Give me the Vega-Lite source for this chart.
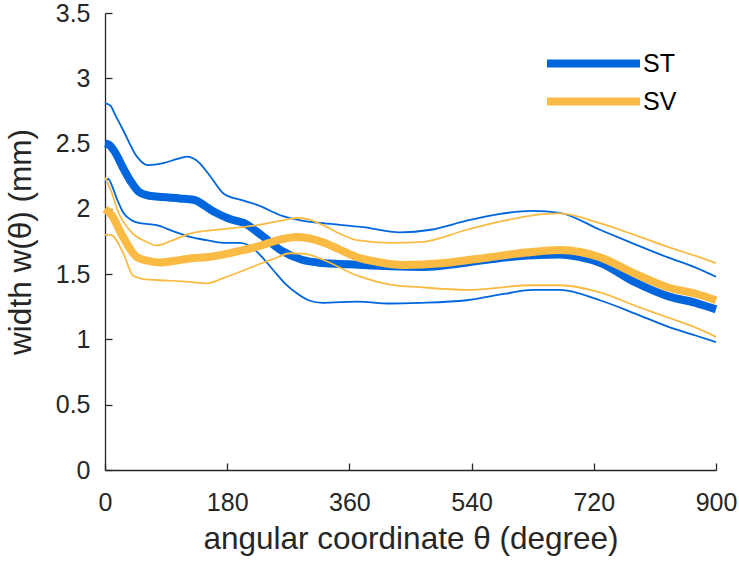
{
  "$schema": "https://vega.github.io/schema/vega-lite/v6.json",
  "width": 611,
  "height": 457,
  "autosize": {"type": "none"},
  "padding": {"left": 105, "top": 13, "right": 23, "bottom": 93},
  "background": "white",
  "config": {
    "view": {"stroke": null},
    "font": "Liberation Sans",
    "axis": {
      "domainColor": "#262626",
      "domainWidth": 1.3,
      "tickColor": "#262626",
      "tickWidth": 1.3,
      "tickSize": -7,
      "labelColor": "#262626",
      "labelFont": "Liberation Sans",
      "labelFontSize": 25,
      "titleFont": "Liberation Sans",
      "titleFontSize": 31.5,
      "titleFontWeight": "normal",
      "titleColor": "#262626",
      "grid": false,
      "labelFlush": false,
      "labelOverlap": false
    },
    "legend": {
      "labelFont": "Liberation Sans",
      "labelFontSize": 25,
      "labelColor": "#000000"
    }
  },
  "data": {
    "values": [
      {"series": "ST", "line": "mean", "theta": 0, "w": 2.50},
      {"series": "ST", "line": "mean", "theta": 6, "w": 2.49},
      {"series": "ST", "line": "mean", "theta": 14, "w": 2.44},
      {"series": "ST", "line": "mean", "theta": 25, "w": 2.33},
      {"series": "ST", "line": "mean", "theta": 38, "w": 2.21},
      {"series": "ST", "line": "mean", "theta": 50, "w": 2.13},
      {"series": "ST", "line": "mean", "theta": 65, "w": 2.10},
      {"series": "ST", "line": "mean", "theta": 85, "w": 2.09},
      {"series": "ST", "line": "mean", "theta": 110, "w": 2.08},
      {"series": "ST", "line": "mean", "theta": 130, "w": 2.07},
      {"series": "ST", "line": "mean", "theta": 160, "w": 1.98},
      {"series": "ST", "line": "mean", "theta": 185, "w": 1.92},
      {"series": "ST", "line": "mean", "theta": 205, "w": 1.89},
      {"series": "ST", "line": "mean", "theta": 230, "w": 1.80},
      {"series": "ST", "line": "mean", "theta": 260, "w": 1.68},
      {"series": "ST", "line": "mean", "theta": 290, "w": 1.61},
      {"series": "ST", "line": "mean", "theta": 320, "w": 1.585},
      {"series": "ST", "line": "mean", "theta": 360, "w": 1.575},
      {"series": "ST", "line": "mean", "theta": 420, "w": 1.56},
      {"series": "ST", "line": "mean", "theta": 470, "w": 1.555},
      {"series": "ST", "line": "mean", "theta": 520, "w": 1.58},
      {"series": "ST", "line": "mean", "theta": 570, "w": 1.615},
      {"series": "ST", "line": "mean", "theta": 630, "w": 1.645},
      {"series": "ST", "line": "mean", "theta": 670, "w": 1.65},
      {"series": "ST", "line": "mean", "theta": 700, "w": 1.63},
      {"series": "ST", "line": "mean", "theta": 730, "w": 1.585},
      {"series": "ST", "line": "mean", "theta": 780, "w": 1.44},
      {"series": "ST", "line": "mean", "theta": 830, "w": 1.33},
      {"series": "ST", "line": "mean", "theta": 870, "w": 1.28},
      {"series": "ST", "line": "mean", "theta": 900, "w": 1.23},

      {"series": "ST", "line": "upper", "theta": 0, "w": 2.81},
      {"series": "ST", "line": "upper", "theta": 8, "w": 2.79},
      {"series": "ST", "line": "upper", "theta": 15, "w": 2.72},
      {"series": "ST", "line": "upper", "theta": 27, "w": 2.60},
      {"series": "ST", "line": "upper", "theta": 47, "w": 2.40},
      {"series": "ST", "line": "upper", "theta": 63, "w": 2.335},
      {"series": "ST", "line": "upper", "theta": 86, "w": 2.35},
      {"series": "ST", "line": "upper", "theta": 105, "w": 2.38},
      {"series": "ST", "line": "upper", "theta": 121, "w": 2.40},
      {"series": "ST", "line": "upper", "theta": 135, "w": 2.37},
      {"series": "ST", "line": "upper", "theta": 155, "w": 2.25},
      {"series": "ST", "line": "upper", "theta": 174, "w": 2.12},
      {"series": "ST", "line": "upper", "theta": 199, "w": 2.07},
      {"series": "ST", "line": "upper", "theta": 224, "w": 2.03},
      {"series": "ST", "line": "upper", "theta": 262, "w": 1.945},
      {"series": "ST", "line": "upper", "theta": 290, "w": 1.91},
      {"series": "ST", "line": "upper", "theta": 321, "w": 1.89},
      {"series": "ST", "line": "upper", "theta": 380, "w": 1.86},
      {"series": "ST", "line": "upper", "theta": 434, "w": 1.82},
      {"series": "ST", "line": "upper", "theta": 480, "w": 1.84},
      {"series": "ST", "line": "upper", "theta": 533, "w": 1.91},
      {"series": "ST", "line": "upper", "theta": 580, "w": 1.96},
      {"series": "ST", "line": "upper", "theta": 630, "w": 1.985},
      {"series": "ST", "line": "upper", "theta": 670, "w": 1.97},
      {"series": "ST", "line": "upper", "theta": 729, "w": 1.84},
      {"series": "ST", "line": "upper", "theta": 780, "w": 1.73},
      {"series": "ST", "line": "upper", "theta": 828, "w": 1.63},
      {"series": "ST", "line": "upper", "theta": 870, "w": 1.55},
      {"series": "ST", "line": "upper", "theta": 900, "w": 1.48},

      {"series": "ST", "line": "lower", "theta": 0, "w": 2.20},
      {"series": "ST", "line": "lower", "theta": 5, "w": 2.23},
      {"series": "ST", "line": "lower", "theta": 10, "w": 2.18},
      {"series": "ST", "line": "lower", "theta": 18, "w": 2.07},
      {"series": "ST", "line": "lower", "theta": 27, "w": 1.97},
      {"series": "ST", "line": "lower", "theta": 40, "w": 1.91},
      {"series": "ST", "line": "lower", "theta": 52, "w": 1.89},
      {"series": "ST", "line": "lower", "theta": 76, "w": 1.875},
      {"series": "ST", "line": "lower", "theta": 100, "w": 1.83},
      {"series": "ST", "line": "lower", "theta": 125, "w": 1.785},
      {"series": "ST", "line": "lower", "theta": 150, "w": 1.76},
      {"series": "ST", "line": "lower", "theta": 174, "w": 1.74},
      {"series": "ST", "line": "lower", "theta": 199, "w": 1.74},
      {"series": "ST", "line": "lower", "theta": 212, "w": 1.72},
      {"series": "ST", "line": "lower", "theta": 224, "w": 1.67},
      {"series": "ST", "line": "lower", "theta": 248, "w": 1.53},
      {"series": "ST", "line": "lower", "theta": 265, "w": 1.43},
      {"series": "ST", "line": "lower", "theta": 282, "w": 1.355},
      {"series": "ST", "line": "lower", "theta": 300, "w": 1.30},
      {"series": "ST", "line": "lower", "theta": 321, "w": 1.28},
      {"series": "ST", "line": "lower", "theta": 371, "w": 1.29},
      {"series": "ST", "line": "lower", "theta": 420, "w": 1.275},
      {"series": "ST", "line": "lower", "theta": 464, "w": 1.28},
      {"series": "ST", "line": "lower", "theta": 533, "w": 1.30},
      {"series": "ST", "line": "lower", "theta": 590, "w": 1.35},
      {"series": "ST", "line": "lower", "theta": 630, "w": 1.38},
      {"series": "ST", "line": "lower", "theta": 670, "w": 1.38},
      {"series": "ST", "line": "lower", "theta": 729, "w": 1.30},
      {"series": "ST", "line": "lower", "theta": 780, "w": 1.20},
      {"series": "ST", "line": "lower", "theta": 828, "w": 1.10},
      {"series": "ST", "line": "lower", "theta": 870, "w": 1.03},
      {"series": "ST", "line": "lower", "theta": 900, "w": 0.98},

      {"series": "SV", "line": "mean", "theta": 0, "w": 2.00},
      {"series": "SV", "line": "mean", "theta": 10, "w": 1.95},
      {"series": "SV", "line": "mean", "theta": 25, "w": 1.80},
      {"series": "SV", "line": "mean", "theta": 47, "w": 1.63},
      {"series": "SV", "line": "mean", "theta": 65, "w": 1.60},
      {"series": "SV", "line": "mean", "theta": 81, "w": 1.59},
      {"series": "SV", "line": "mean", "theta": 100, "w": 1.60},
      {"series": "SV", "line": "mean", "theta": 125, "w": 1.62},
      {"series": "SV", "line": "mean", "theta": 150, "w": 1.63},
      {"series": "SV", "line": "mean", "theta": 174, "w": 1.65},
      {"series": "SV", "line": "mean", "theta": 200, "w": 1.68},
      {"series": "SV", "line": "mean", "theta": 224, "w": 1.71},
      {"series": "SV", "line": "mean", "theta": 255, "w": 1.76},
      {"series": "SV", "line": "mean", "theta": 282, "w": 1.785},
      {"series": "SV", "line": "mean", "theta": 300, "w": 1.775},
      {"series": "SV", "line": "mean", "theta": 321, "w": 1.745},
      {"series": "SV", "line": "mean", "theta": 345, "w": 1.69},
      {"series": "SV", "line": "mean", "theta": 371, "w": 1.63},
      {"series": "SV", "line": "mean", "theta": 400, "w": 1.595},
      {"series": "SV", "line": "mean", "theta": 440, "w": 1.57},
      {"series": "SV", "line": "mean", "theta": 500, "w": 1.585},
      {"series": "SV", "line": "mean", "theta": 567, "w": 1.63},
      {"series": "SV", "line": "mean", "theta": 620, "w": 1.665},
      {"series": "SV", "line": "mean", "theta": 670, "w": 1.685},
      {"series": "SV", "line": "mean", "theta": 700, "w": 1.67},
      {"series": "SV", "line": "mean", "theta": 729, "w": 1.63},
      {"series": "SV", "line": "mean", "theta": 778, "w": 1.51},
      {"series": "SV", "line": "mean", "theta": 828, "w": 1.40},
      {"series": "SV", "line": "mean", "theta": 870, "w": 1.35},
      {"series": "SV", "line": "mean", "theta": 900, "w": 1.30},

      {"series": "SV", "line": "upper", "theta": 0, "w": 2.24},
      {"series": "SV", "line": "upper", "theta": 8, "w": 2.15},
      {"series": "SV", "line": "upper", "theta": 20, "w": 1.97},
      {"series": "SV", "line": "upper", "theta": 41, "w": 1.81},
      {"series": "SV", "line": "upper", "theta": 60, "w": 1.75},
      {"series": "SV", "line": "upper", "theta": 76, "w": 1.72},
      {"series": "SV", "line": "upper", "theta": 100, "w": 1.76},
      {"series": "SV", "line": "upper", "theta": 125, "w": 1.81},
      {"series": "SV", "line": "upper", "theta": 174, "w": 1.845},
      {"series": "SV", "line": "upper", "theta": 224, "w": 1.875},
      {"series": "SV", "line": "upper", "theta": 260, "w": 1.91},
      {"series": "SV", "line": "upper", "theta": 282, "w": 1.93},
      {"series": "SV", "line": "upper", "theta": 300, "w": 1.92},
      {"series": "SV", "line": "upper", "theta": 321, "w": 1.875},
      {"series": "SV", "line": "upper", "theta": 350, "w": 1.80},
      {"series": "SV", "line": "upper", "theta": 371, "w": 1.76},
      {"series": "SV", "line": "upper", "theta": 420, "w": 1.74},
      {"series": "SV", "line": "upper", "theta": 464, "w": 1.745},
      {"series": "SV", "line": "upper", "theta": 533, "w": 1.84},
      {"series": "SV", "line": "upper", "theta": 580, "w": 1.90},
      {"series": "SV", "line": "upper", "theta": 630, "w": 1.95},
      {"series": "SV", "line": "upper", "theta": 670, "w": 1.965},
      {"series": "SV", "line": "upper", "theta": 729, "w": 1.89},
      {"series": "SV", "line": "upper", "theta": 780, "w": 1.80},
      {"series": "SV", "line": "upper", "theta": 828, "w": 1.71},
      {"series": "SV", "line": "upper", "theta": 870, "w": 1.64},
      {"series": "SV", "line": "upper", "theta": 900, "w": 1.585},

      {"series": "SV", "line": "lower", "theta": 0, "w": 1.80},
      {"series": "SV", "line": "lower", "theta": 8, "w": 1.80},
      {"series": "SV", "line": "lower", "theta": 27, "w": 1.66},
      {"series": "SV", "line": "lower", "theta": 41, "w": 1.49},
      {"series": "SV", "line": "lower", "theta": 60, "w": 1.46},
      {"series": "SV", "line": "lower", "theta": 76, "w": 1.455},
      {"series": "SV", "line": "lower", "theta": 125, "w": 1.44},
      {"series": "SV", "line": "lower", "theta": 150, "w": 1.43},
      {"series": "SV", "line": "lower", "theta": 174, "w": 1.47},
      {"series": "SV", "line": "lower", "theta": 200, "w": 1.52},
      {"series": "SV", "line": "lower", "theta": 224, "w": 1.57},
      {"series": "SV", "line": "lower", "theta": 250, "w": 1.62},
      {"series": "SV", "line": "lower", "theta": 272, "w": 1.66},
      {"series": "SV", "line": "lower", "theta": 295, "w": 1.655},
      {"series": "SV", "line": "lower", "theta": 321, "w": 1.61},
      {"series": "SV", "line": "lower", "theta": 371, "w": 1.49},
      {"series": "SV", "line": "lower", "theta": 420, "w": 1.42},
      {"series": "SV", "line": "lower", "theta": 464, "w": 1.40},
      {"series": "SV", "line": "lower", "theta": 533, "w": 1.38},
      {"series": "SV", "line": "lower", "theta": 630, "w": 1.415},
      {"series": "SV", "line": "lower", "theta": 670, "w": 1.415},
      {"series": "SV", "line": "lower", "theta": 729, "w": 1.36},
      {"series": "SV", "line": "lower", "theta": 780, "w": 1.26},
      {"series": "SV", "line": "lower", "theta": 828, "w": 1.17},
      {"series": "SV", "line": "lower", "theta": 870, "w": 1.09},
      {"series": "SV", "line": "lower", "theta": 900, "w": 1.02}
    ]
  },
  "mark": {"type": "line", "interpolate": "monotone", "strokeCap": "butt", "strokeJoin": "round"},
  "encoding": {
    "x": {
      "field": "theta",
      "type": "quantitative",
      "scale": {"domain": [0, 900], "nice": false, "zero": false},
      "axis": {
        "values": [0, 180, 360, 540, 720, 900],
        "title": "angular coordinate θ (degree)",
        "labelPadding": 27,
        "titlePadding": 8
      }
    },
    "y": {
      "field": "w",
      "type": "quantitative",
      "scale": {"domain": [0, 3.5], "nice": false},
      "axis": {
        "values": [0, 0.5, 1, 1.5, 2, 2.5, 3, 3.5],
        "format": "~g",
        "title": "width w(θ) (mm)",
        "labelPadding": 22,
        "titlePadding": 18
      }
    },
    "color": {
      "field": "series",
      "type": "nominal",
      "scale": {"domain": ["ST", "SV"], "range": ["#0066DD", "#F9BB44"]},
      "legend": {
        "title": null,
        "orient": "none",
        "legendX": 469,
        "legendY": 31,
        "symbolType": "M-3,0H3",
        "symbolSize": 961,
        "symbolStrokeWidth": 8,
        "labelOffset": 30,
        "rowPadding": 2,
        "padding": 0
      }
    },
    "strokeWidth": {
      "field": "line",
      "type": "nominal",
      "scale": {"type": "ordinal", "domain": ["mean", "upper", "lower"], "range": [8, 1.8, 1.8]},
      "legend": null
    },
    "detail": {"field": "line"}
  }
}
